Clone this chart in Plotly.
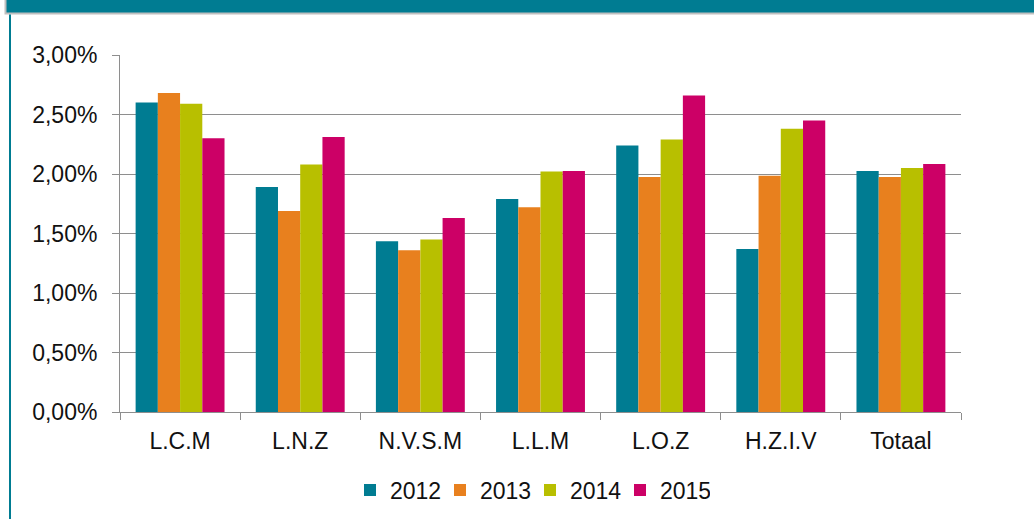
import plotly.graph_objects as go

categories = ["L.C.M", "L.N.Z", "N.V.S.M", "L.L.M", "L.O.Z", "H.Z.I.V", "Totaal"]
years = ["2012", "2013", "2014", "2015"]
v2012 = [0.0260, 0.0189, 0.01435, 0.0179, 0.0224, 0.0137, 0.02025]
v2013 = [0.0268, 0.0169, 0.0136, 0.0172, 0.01975, 0.01985, 0.01975]
v2014 = [0.0259, 0.0208, 0.0145, 0.0202, 0.0229, 0.0238, 0.0205]
v2015 = [0.0230, 0.0231, 0.0163, 0.02025, 0.0266, 0.0245, 0.02085]
series = [v2012, v2013, v2014, v2015]
colors = ["#007C92", "#E8801E", "#B8BF00", "#CC0066"]
y_ticks = [0, 0.005, 0.01, 0.015, 0.02, 0.025, 0.03]

W, H = 1034, 519
ML, MR, MT, MB = 120, 73, 55, 107
PW, PH = W - ML - MR, H - MT - MB

def px(x):
    return (x - ML) / PW

def py(y):
    return (H - MB - y) / PH

fig = go.Figure()
for name, vals, col in zip(years, series, colors):
    fig.add_trace(go.Bar(x=categories, y=vals, name=name,
                         marker=dict(color=col, line=dict(width=0))))

grid_col = "#8E8E8E"
font = dict(family="Liberation Sans, Arial, sans-serif", size=23, color="#111111")

shapes = [
    dict(type="rect", xref="paper", yref="paper", x0=px(4.5), x1=px(1040), y0=py(-5), y1=py(14.5),
         fillcolor="#BFBFBF", line=dict(width=0)),
    dict(type="rect", xref="paper", yref="paper", x0=px(6.5), x1=px(1040), y0=py(-5), y1=py(12.5),
         fillcolor="#007C92", line=dict(width=0)),
    dict(type="rect", xref="paper", yref="paper", x0=px(9), x1=px(11), y0=py(14.5), y1=py(530),
         fillcolor="#007C92", line=dict(width=0)),
]

fig.update_layout(
    width=W, height=H,
    margin=dict(l=ML, r=MR, t=MT, b=MB, pad=0, autoexpand=False),
    paper_bgcolor="white", plot_bgcolor="white",
    barmode="group", bargap=0.26, bargroupgap=0,
    separators=",.",
    font=font,
    showlegend=True,
    legend=dict(orientation="h", x=px(530), xanchor="center", y=py(490), yanchor="middle",
                font=font, itemwidth=30, traceorder="normal",
                entrywidth=45, entrywidthmode="pixels"),
    shapes=shapes,
    xaxis=dict(showline=True, linecolor=grid_col, linewidth=1, ticks="outside",
               tickson="boundaries", ticklen=7, tickcolor=grid_col, showgrid=False,
               ticklabelstandoff=8, tickfont=font, automargin=False),
    yaxis=dict(range=[0, 0.03], tickvals=y_ticks, tickformat=".2%", showline=True,
               linecolor=grid_col, linewidth=1, ticks="outside", ticklen=7, tickcolor=grid_col,
               showgrid=True, gridcolor=grid_col, gridwidth=1, zeroline=False,
               ticklabelstandoff=10, tickfont=font, automargin=False),
)

fig.write_html("out.html", config={"displayModeBar": False},
               post_script="document.body.style.margin='0';document.body.style.overflow='hidden';")
